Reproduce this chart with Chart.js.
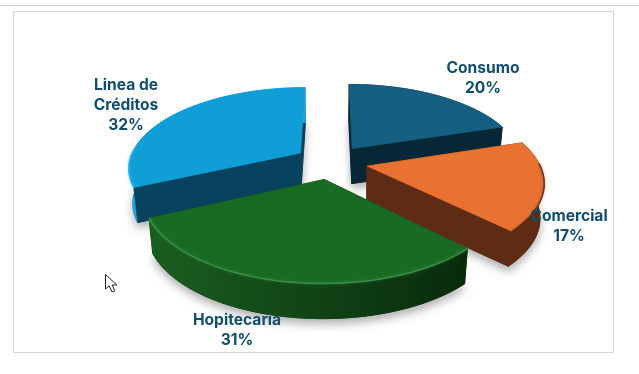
<!DOCTYPE html>
<html>
<head>
<meta charset="utf-8">
<style>
  html, body { margin: 0; padding: 0; background: #fff; overflow: hidden; }
  #topline { position: absolute; left: 0; top: 5px; width: 639px; height: 1px; background: #cfcfcf; }
  #frame { position: absolute; left: 13px; top: 11px; width: 599px; height: 340px; border: 1px solid #d9d9d9; box-sizing: content-box; }
  #grafico { position: absolute; left: 0; top: 0; }
  #cursor { position: absolute; left: 104px; top: 273px; }
</style>
</head>
<body>
<div id="topline"></div>
<div id="frame"></div>
<canvas id="grafico" width="639" height="374"></canvas>
<svg id="cursor" width="16" height="22" viewBox="0 0 16 22">
  <path d="M1.5 1.5 L1.5 16 L5.2 12.8 L8 19 L10.8 17.8 L8.2 12 L12.8 12 Z" fill="#fff" stroke="#222" stroke-width="1"/>
</svg>
<script src="https://cdn.jsdelivr.net/npm/chart.js@4"></script>
<script>
const categorias = ["Consumo", "Comercial", "Hopitecaria", "Linea de Créditos"];
const porcentajes = [20.1, 17.4, 30.6, 31.9];
const rotulos = [["Consumo", "20%"], ["Comercial", "17%"], ["Hopitecaria", "31%"], ["Linea de", "Créditos", "32%"]];

const coresTopo = ["#156082", "#E97132", "#196B24", "#0F9ED5"];
const coresCorte = ["#072636", "#5E2C14", "#0C3210", "#07435F"];
// color de la pared exterior, al inicio y al final de cada arco
const coresParedIni = ["#072636", "#5E2C14", "#082A0C", "#1AA6E6"];
const coresParedFim = ["#072636", "#5E2C14", "#1A5F1F", "#1AA6E6"];
const coresBorde = [null, "rgba(80,35,12,.7)", "rgba(75,165,85,.6)", "rgba(40,180,245,.8)"];
const posRotulos = [[483, 68], [569, 216], [237, 320], [126, 85]];

const perspectiva = 0.172;
const achatado = 0.463;
const profundidad = 35;

function proyecta(el, x, y, abajo) {
  const s = 1 / (1 - perspectiva * y);
  const R = el.outerRadius;
  const px = R * x * s * (abajo ? 0.98 : 1);
  return [el.x + px, el.y + R * achatado * y * s + (abajo ? profundidad : 0)];
}

function poligono(ctx, pts, cor) {
  ctx.beginPath();
  pts.forEach((p, i) => (i ? ctx.lineTo(p[0], p[1]) : ctx.moveTo(p[0], p[1])));
  ctx.closePath();
  ctx.fillStyle = cor;
  ctx.strokeStyle = cor;
  ctx.lineWidth = 0.8;
  ctx.lineJoin = "round";
  ctx.fill();
  ctx.stroke();
}

function dibujaSector(ctx, el, i) {
  const ini = el.startAngle, fim = el.endAngle;
  const mid = (ini + fim) / 2;
  const d = el.options.offset / 4 / el.outerRadius;
  const ox = d * Math.cos(mid), oy = d * Math.sin(mid);
  const n = 60;
  const arcoT = [], arcoB = [], frente = [];
  for (let k = 0; k <= n; k++) {
    const a = ini + ((fim - ini) * k) / n;
    arcoT.push(proyecta(el, ox + Math.cos(a), oy + Math.sin(a), false));
    arcoB.push(proyecta(el, ox + Math.cos(a), oy + Math.sin(a), true));
    if (Math.sin(a) > -0.05) frente.push(arcoT[k]);
  }
  const apiceT = proyecta(el, ox, oy, false);
  const apiceB = proyecta(el, ox, oy, true);

  // sombra suave debajo del sector
  ctx.save();
  ctx.shadowColor = "rgba(0,0,0,.3)";
  ctx.shadowBlur = 9;
  ctx.shadowOffsetY = 5;
  poligono(ctx, [apiceB].concat(arcoB), coresCorte[i]);
  ctx.restore();

  const caraIni = [apiceT, arcoT[0], arcoB[0], apiceB];
  const caraFim = [apiceT, arcoT[n], arcoB[n], apiceB];
  // una cara mira al frente si su normal apunta hacia abajo en pantalla
  const iniFrente = Math.sin(ini - Math.PI / 2) > 0.01;
  const fimFrente = Math.sin(fim + Math.PI / 2) > 0.01;
  if (!iniFrente) poligono(ctx, caraIni, coresCorte[i]);
  if (!fimFrente) poligono(ctx, caraFim, coresCorte[i]);

  // pared exterior con degradado de un extremo al otro
  const grad = ctx.createLinearGradient(arcoT[0][0], 0, arcoT[n][0], 0);
  grad.addColorStop(0, coresParedIni[i]);
  grad.addColorStop(1, coresParedFim[i]);
  poligono(ctx, arcoT.concat(arcoB.slice().reverse()), grad);

  if (iniFrente) poligono(ctx, caraIni, coresCorte[i]);
  if (fimFrente) poligono(ctx, caraFim, coresCorte[i]);

  poligono(ctx, [apiceT].concat(arcoT), coresTopo[i]);

  // bisel, solo en la parte del borde que mira al frente
  if (coresBorde[i] && frente.length > 1) {
    ctx.save();
    ctx.shadowColor = coresBorde[i];
    ctx.shadowBlur = 3;
    ctx.beginPath();
    frente.forEach((p, k) => (k ? ctx.lineTo(p[0], p[1]) : ctx.moveTo(p[0], p[1])));
    ctx.strokeStyle = coresBorde[i];
    ctx.lineWidth = 1.5;
    ctx.stroke();
    ctx.restore();
  }
}

const pastel3d = {
  id: "pastel3d",
  beforeDatasetsDraw(chart) {
    const ctx = chart.ctx;
    const arcos = chart.getDatasetMeta(0).data;
    const orden = arcos.map((el, i) => i).sort((a, b) => {
      const ma = (arcos[a].startAngle + arcos[a].endAngle) / 2;
      const mb = (arcos[b].startAngle + arcos[b].endAngle) / 2;
      return Math.sin(ma) - Math.sin(mb);
    });
    orden.forEach((i) => dibujaSector(ctx, arcos[i], i));
    return false;
  },
  afterDraw(chart) {
    const ctx = chart.ctx;
    ctx.save();
    ctx.font = "bold 15.6px Inter, 'Open Sans', sans-serif";
    ctx.fillStyle = "#0F4E6D";
    ctx.textAlign = "center";
    ctx.textBaseline = "middle";
    rotulos.forEach((lineas, i) => {
      lineas.forEach((t, j) => {
        ctx.fillText(t, posRotulos[i][0], posRotulos[i][1] + j * 20);
      });
    });
    ctx.restore();
  },
};

new Chart(document.getElementById("grafico"), {
  type: "pie",
  data: {
    labels: categorias,
    datasets: [{ data: porcentajes, backgroundColor: coresTopo, borderWidth: 0, offset: 148 }],
  },
  options: {
    responsive: false,
    animation: false,
    radius: 171.5,
    layout: { padding: { left: 23, bottom: 50 } },
    plugins: { legend: { display: false }, tooltip: { enabled: false } },
  },
  plugins: [pastel3d],
});
</script>
</body>
</html>
